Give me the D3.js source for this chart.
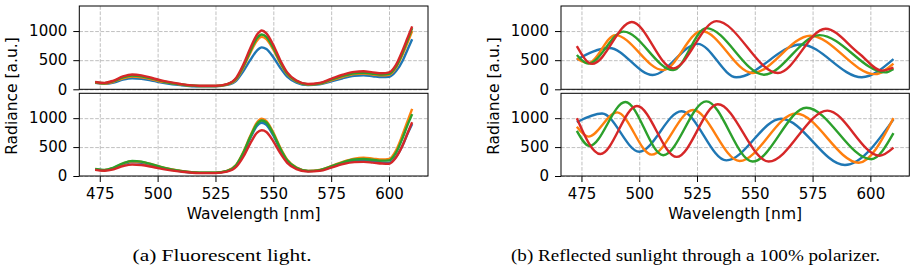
<!DOCTYPE html>
<html>
<head>
<meta charset="utf-8">
<script src="https://cdn.jsdelivr.net/npm/d3@7"></script>
<style>
  body { margin: 0; background: #fff; }
  svg { display: block; }
  .tick text { font-family: "DejaVu Sans", sans-serif; font-size: 15px; fill: #000; }
  .axlabel { font-family: "DejaVu Sans", sans-serif; font-size: 15.5px; fill: #000; }
  .caption { font-family: "Liberation Serif", serif; font-size: 16.5px; fill: #000; }
  .grid line { stroke: #b0b0b0; stroke-width: 0.8; stroke-dasharray: 3.7,1.6; }
  .grid .domain { display: none; }
</style>
</head>
<body>
<div id="plot"></div>
<script>
// fluorescent light, sampled wavelengths [nm]
var wlFluor = [473, 477, 481, 485, 489, 493, 498, 503, 510, 518, 525, 530, 534, 537, 540, 543, 545, 547, 550, 553, 556, 560, 565, 570, 575, 580, 585, 589, 593, 597, 600, 603, 606, 608, 610];

var fluorTopBlue   = [110, 95, 115, 165, 190, 180, 145, 108, 72, 50, 50, 75, 150, 310, 500, 670, 720, 690, 550, 370, 215, 115, 72, 85, 135, 190, 230, 240, 225, 210, 215, 310, 500, 680, 860];
var fluorTopOrange = [115, 100, 130, 190, 218, 205, 165, 122, 80, 55, 55, 82, 175, 370, 620, 840, 900, 860, 680, 450, 260, 135, 82, 95, 155, 215, 260, 270, 255, 240, 250, 370, 610, 800, 1000];
var fluorTopGreen  = [120, 105, 140, 205, 235, 222, 178, 130, 85, 57, 57, 85, 185, 390, 650, 880, 940, 900, 710, 470, 270, 140, 85, 100, 165, 230, 275, 285, 268, 255, 265, 390, 640, 840, 1050];
var fluorTopRed    = [125, 110, 150, 220, 255, 240, 190, 140, 90, 60, 60, 90, 200, 420, 700, 940, 1010, 960, 760, 500, 290, 150, 90, 110, 180, 250, 300, 310, 290, 275, 290, 420, 680, 880, 1080];

var fluorBotBlue   = [112, 98, 135, 200, 240, 228, 182, 132, 83, 55, 55, 84, 185, 385, 650, 870, 920, 885, 700, 455, 262, 135, 84, 98, 155, 220, 262, 270, 255, 235, 230, 330, 540, 730, 900];
var fluorBotOrange = [115, 100, 140, 215, 255, 245, 195, 140, 88, 58, 58, 88, 195, 410, 690, 930, 990, 950, 750, 490, 280, 145, 88, 105, 170, 245, 300, 315, 300, 285, 295, 440, 730, 950, 1160];
var fluorBotGreen  = [120, 105, 145, 220, 262, 248, 195, 140, 87, 57, 57, 87, 192, 400, 675, 905, 960, 925, 730, 475, 272, 140, 86, 102, 165, 235, 285, 295, 280, 265, 270, 400, 670, 880, 1070];
var fluorBotRed    = [105, 90, 115, 170, 200, 190, 155, 115, 75, 50, 50, 75, 160, 330, 560, 750, 790, 760, 600, 395, 228, 120, 75, 88, 145, 205, 240, 245, 232, 215, 212, 320, 540, 740, 930];

// polarized sunlight: [wavelength, radiance] at start, extrema and end
var polTopBlue   = [[473, 510], [487, 710], [505.8, 246], [525.3, 780], [542, 207], [570, 770], [596.3, 207], [610, 517]];
var polTopOrange = [[473, 530], [478, 450], [489.6, 930], [510.3, 330], [527, 1000], [549, 280], [574, 920], [602, 260], [610, 440]];
var polTopGreen  = [[473, 590], [478, 440], [493.2, 990], [514.7, 330], [529, 1050], [554, 250], [578, 930], [606.5, 290], [610, 350]];
var polTopRed    = [[473, 740], [479.6, 436], [496.8, 1155], [514.7, 360], [533.4, 1170], [560, 280], [580.6, 1040], [595, 620], [605, 320], [610, 370]];

var polBotBlue   = [[473, 930], [483.9, 1080], [500, 420], [518.3, 1120], [537.7, 270], [561.4, 990], [589, 190], [610, 980]];
var polBotOrange = [[473, 850], [478, 680], [490.4, 1100], [505.4, 370], [523.3, 1140], [543.4, 260], [567.8, 1080], [595, 230], [610, 1000]];
var polBotGreen  = [[473, 780], [478.5, 520], [494, 1280], [510.4, 360], [529, 1290], [549, 250], [572.3, 1180], [600.4, 290], [610, 740]];
var polBotRed    = [[473, 1000], [483.2, 380], [499, 1210], [516.2, 330], [534, 1240], [556, 250], [581.4, 1130], [604, 350], [610, 490]];

var colors = ["#1f77b4", "#ff7f0e", "#2ca02c", "#d62728"];
var xTicks = [475, 500, 525, 550, 575, 600];
var yTicks = [0, 500, 1000];
var captions = ["(a) Fluorescent light.", "(b) Reflected sunlight through a 100% polarizer."];

var width = 915, height = 272;
var svg = d3.select("#plot").append("svg")
    .attr("width", width)
    .attr("height", height);

function zipFluor(vals) {
  return vals.map(function(v, i) { return [wlFluor[i], v]; });
}

// one axes box with its lines
function panel(left, right, top, bottom, series, showX) {
  var x = d3.scaleLinear().domain([466.15, 616.85]).range([left, right]);
  var y = d3.scaleLinear().domain([0, 1430]).range([bottom, top]);

  svg.append("g")
      .attr("class", "grid")
      .attr("transform", "translate(0," + bottom + ")")
      .call(d3.axisBottom(x).tickValues(xTicks).tickSize(-(bottom - top)).tickFormat(""));
  svg.append("g")
      .attr("class", "grid")
      .attr("transform", "translate(" + left + ",0)")
      .call(d3.axisLeft(y).tickValues(yTicks).tickSize(-(right - left)).tickFormat(""));

  var line = d3.line()
      .x(function(d) { return x(d[0]); })
      .y(function(d) { return y(d[1]); })
      .curve(d3.curveMonotoneX);

  series.forEach(function(s, i) {
    svg.append("path")
        .datum(s)
        .attr("fill", "none")
        .attr("stroke", colors[i])
        .attr("stroke-width", 2.4)
        .attr("d", line);
  });

  svg.append("rect")
      .attr("x", left).attr("y", top)
      .attr("width", right - left).attr("height", bottom - top)
      .attr("fill", "none").attr("stroke", "#000").attr("stroke-width", 1);

  var ya = svg.append("g")
      .attr("transform", "translate(" + left + ",0)")
      .call(d3.axisLeft(y).tickValues(yTicks).tickFormat(d3.format("d")).tickSize(6).tickPadding(6));
  ya.select(".domain").remove();

  if (showX) {
    var xa = svg.append("g")
        .attr("transform", "translate(0," + bottom + ")")
        .call(d3.axisBottom(x).tickValues(xTicks).tickSize(6).tickPadding(6));
    xa.select(".domain").remove();
  }
}

var lefts = [79.3, 561];
var rights = [428, 909.3];

panel(lefts[0], rights[0], 6, 89.3, [zipFluor(fluorTopBlue), zipFluor(fluorTopOrange), zipFluor(fluorTopGreen), zipFluor(fluorTopRed)], false);
panel(lefts[0], rights[0], 93.3, 176, [zipFluor(fluorBotBlue), zipFluor(fluorBotOrange), zipFluor(fluorBotGreen), zipFluor(fluorBotRed)], true);
panel(lefts[1], rights[1], 6, 89.3, [polTopBlue, polTopOrange, polTopGreen, polTopRed], false);
panel(lefts[1], rights[1], 93.3, 176, [polBotBlue, polBotOrange, polBotGreen, polBotRed], true);

// axis labels and captions
var capX = [222, 695.5], capLen = [179, 369];
[0, 1].forEach(function(k) {
  var mid = (lefts[k] + rights[k]) / 2;
  svg.append("text")
      .attr("class", "axlabel")
      .attr("x", mid).attr("y", 219.3)
      .attr("text-anchor", "middle")
      .text("Wavelength [nm]");
  svg.append("text")
      .attr("class", "axlabel")
      .attr("transform", "translate(" + (lefts[k] - 62.5) + ",96) rotate(-90)")
      .attr("text-anchor", "middle")
      .text("Radiance [a.u.]");
  svg.append("text")
      .attr("class", "caption")
      .attr("x", capX[k]).attr("y", 261)
      .attr("text-anchor", "middle")
      .attr("textLength", capLen[k])
      .attr("lengthAdjust", "spacingAndGlyphs")
      .text(captions[k]);
});
</script>
</body>
</html>
